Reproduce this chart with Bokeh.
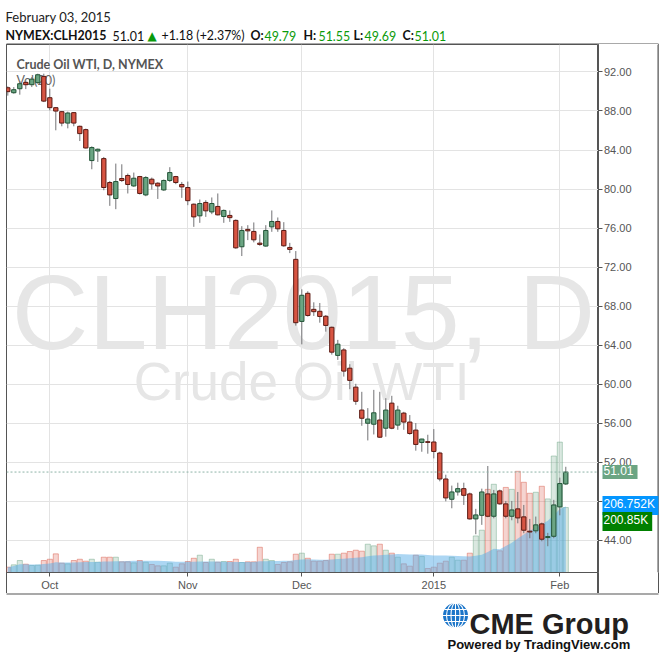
import numpy as np
import pandas as pd
from bokeh.plotting import figure
from bokeh.layouts import column, row
from bokeh.models import (ColumnDataSource, Range1d, FixedTicker, PrintfTickFormatter,
                          Label, Span)
from bokeh.embed import file_html
from bokeh.resources import INLINE

# ---------------- data ----------------
holidays = ["2014-11-27", "2014-12-25", "2015-01-01"]
trade_dates = pd.bdate_range("2014-09-22", "2015-02-03")
trade_dates = trade_dates[~trade_dates.isin(pd.to_datetime(holidays))]

open_ = [90.38, 89.87, 90.28, 90.93, 90.69, 90.90, 91.54, 89.36, 88.34, 87.93,
         86.76, 87.83, 86.43, 86.09, 82.92, 83.90, 83.12, 80.67, 79.03, 81.08,
         81.39, 80.32, 81.28, 79.40, 81.01, 80.60, 79.91, 80.88, 81.28, 80.47,
         80.16, 78.45, 77.26, 78.63, 77.66, 78.22, 77.19, 77.30, 76.79, 74.09,
         75.87, 75.66, 74.46, 74.16, 76.13, 76.68, 75.76, 74.02, 72.80, 66.44,
         69.32, 67.68, 67.48, 66.97, 65.84, 62.96, 63.52, 61.65, 59.71, 57.36,
         56.01, 55.91, 56.34, 55.50, 58.07, 55.82, 57.05, 56.13, 55.31, 54.04,
         54.12, 54.09, 52.96, 50.30, 48.22, 48.97, 49.31, 48.77, 46.21, 46.58,
         48.77, 46.48, 49.08, 47.75, 46.48, 47.24, 46.42, 44.95, 44.99, 45.70,
         44.30, 44.43, 47.44, 49.79]
high = [90.52, 90.45, 91.06, 91.13, 91.47, 91.82, 91.82, 90.28, 88.40, 87.99,
        87.93, 87.89, 86.50, 86.19, 84.38, 84.15, 83.29, 80.83, 82.61, 82.54,
        81.59, 81.69, 81.35, 81.32, 81.18, 80.70, 80.98, 82.24, 81.35, 80.73,
        80.77, 78.52, 78.93, 78.86, 79.14, 79.55, 77.91, 77.81, 76.89, 76.20,
        76.30, 76.58, 75.35, 76.30, 77.81, 77.09, 76.61, 74.49, 73.65, 69.73,
        69.53, 68.40, 68.33, 67.10, 65.91, 64.55, 63.70, 62.06, 60.05, 59.23,
        57.56, 59.43, 59.23, 58.58, 58.82, 57.80, 57.18, 56.85, 56.03, 54.42,
        54.83, 55.41, 53.09, 50.74, 49.62, 49.92, 49.92, 48.90, 47.24, 49.31,
        51.63, 49.18, 49.21, 48.05, 48.05, 48.97, 47.64, 46.21, 46.45, 45.83,
        44.78, 48.16, 50.44, 51.55]
low = [89.57, 89.77, 89.67, 90.24, 90.45, 90.79, 88.91, 88.06, 86.02, 86.43,
       86.22, 86.43, 84.92, 84.15, 82.03, 82.78, 79.88, 78.28, 77.94, 80.73,
       79.55, 80.22, 79.44, 79.27, 79.95, 78.99, 79.81, 80.73, 80.50, 79.10,
       78.35, 76.13, 76.54, 77.15, 77.43, 77.30, 76.54, 76.64, 73.88, 73.14,
       74.77, 74.54, 74.19, 74.09, 75.62, 75.62, 74.09, 73.44, 66.01, 64.09,
       66.93, 67.00, 66.31, 65.39, 63.04, 62.50, 60.79, 59.50, 57.90, 55.75,
       54.25, 54.86, 54.50, 54.63, 55.40, 55.34, 55.34, 54.83, 53.20, 53.09,
       52.89, 52.41, 50.06, 48.01, 47.30, 48.60, 47.64, 46.14, 44.64, 45.60,
       46.38, 46.27, 47.67, 46.27, 46.07, 45.76, 44.74, 44.23, 44.74, 43.92,
       43.41, 44.23, 46.58, 49.69]
close = [89.98, 90.18, 90.79, 90.69, 91.26, 91.71, 89.01, 88.34, 87.99, 86.76,
         87.79, 86.76, 85.68, 84.21, 84.25, 84.08, 80.16, 79.40, 80.77, 80.88,
         80.47, 81.11, 79.55, 81.18, 80.53, 80.32, 80.88, 81.69, 80.67, 80.22,
         78.81, 77.15, 78.52, 77.77, 78.52, 77.36, 77.81, 77.07, 73.98, 75.76,
         75.72, 74.80, 74.33, 75.76, 76.68, 75.93, 74.19, 73.82, 66.31, 69.12,
         67.05, 67.44, 66.95, 66.03, 63.29, 64.11, 61.35, 60.40, 58.26, 56.52,
         56.44, 57.08, 54.58, 57.36, 55.50, 57.36, 56.13, 54.96, 53.84, 54.39,
         54.05, 53.12, 50.30, 48.36, 48.97, 49.31, 48.63, 46.21, 46.62, 48.97,
         46.48, 48.77, 47.75, 46.48, 47.13, 46.31, 45.05, 44.87, 45.60, 44.13,
         44.40, 47.64, 49.83, 51.01]
volume_k = [16.5, 23.7, 37.0, 25.7, 21.6, 22.6, 37.0, 41.0, 57.6, 28.8,
            26.8, 37.0, 41.0, 35.0, 41.0, 31.9, 47.3, 47.3, 47.3, 33.0,
            33.0, 29.8, 37.0, 31.9, 24.7, 20.6, 20.6, 28.8, 16.5, 26.8,
            34.0, 44.0, 53.5, 30.9, 41.0, 31.9, 34.0, 34.0, 41.0, 30.9,
            33.0, 33.0, 78.0, 41.0, 37.0, 24.7, 30.9, 33.0, 56.6, 59.7,
            44.0, 35.0, 35.0, 37.0, 56.6, 56.6, 59.7, 64.8, 68.9, 65.9,
            87.5, 82.3, 87.5, 68.9, 59.7, 47.3, 26.8, 19.6, 53.5, 49.4,
            12.3, 16.5, 28.8, 35.0, 47.3, 38.0, 38.0, 59.7, 113.0, 130.7,
            257.0, 272.7, 66.9, 263.0, 257.0, 312.8, 278.9, 244.9, 248.0, 266.5,
            227.4, 360.0, 403.0, 200.85]

month_tick_labels = ["Oct", "Nov", "Dec", "2015", "Feb"]
price_ticks = [44, 48, 52, 56, 60, 64, 68, 72, 76, 80, 84, 88, 92]

last_close = 51.01
vol_ma_last = 206.752
vol_last = 200.85

# ---------------- derived ----------------
n = len(close)
idx = np.arange(n)
o = np.array(open_); c = np.array(close)
up = c >= o
UP_FILL, UP_LINE = "#6ba583", "#225437"
DN_FILL, DN_LINE = "#d75442", "#5b1a13"
WICK = "#737375"
AXIS_COL = "#555555"

months = trade_dates.to_period("M")
tick_idx = [i for i in range(1, n) if months[i] != months[i - 1]]

vol_ma = pd.Series(volume_k).rolling(20, min_periods=1).mean().values

candles = ColumnDataSource(dict(
    x=idx, top=np.maximum(o, c), bottom=np.minimum(o, c), high=high, low=low,
    fill=[UP_FILL if u else DN_FILL for u in up],
    line=[UP_LINE if u else DN_LINE for u in up],
))
vols = ColumnDataSource(dict(x=idx, v=volume_k, ma=vol_ma,
                             col=[UP_FILL if u else DN_FILL for u in up]))

PLOT_H = 529          # frame height of price pane
AXIS_H = 20           # date-axis strip below it
price_range = Range1d(40.72, 94.81)
vol_range = Range1d(0, 1632.0)

# thin box lines drawn by CSS in the (transparent) border strips
def vlines(*xs):
    imgs = ", ".join(["linear-gradient(#555555, #555555)"] * len(xs))
    return {"background-image": imgs,
            "background-size": ", ".join(["1px 100%"] * len(xs)),
            "background-position": ", ".join([f"{x}px 0px" for x in xs]),
            "background-repeat": "no-repeat"}


def lab(fig, text, x, y, size, color="#222222", bold=False, font="Lato",
        align="left", baseline="alphabetic", level="annotation", units="data", **kw):
    fig.add_layout(Label(x=x, y=y, x_units=kw.pop("x_units", units),
                         y_units=kw.pop("y_units", units), text=text, text_font=font,
                         text_font_size=f"{size}px", text_color=color,
                         text_font_style="bold" if bold else "normal",
                         text_align=align, text_baseline=baseline, level=level, **kw))


def bare(fig):
    fig.xgrid.visible = False
    fig.ygrid.visible = False
    fig.outline_line_color = None


# ---------------- header ----------------
hdr = figure(width=664, height=44, x_range=Range1d(0, 664), y_range=Range1d(44, 0),
             x_axis_location=None, y_axis_location=None, title=None,
             output_backend="svg", toolbar_location=None, min_border=0)
bare(hdr)
lab(hdr, "February 03, 2015", 5, 16, 13, color="#222222")
GREEN = "#0a9a0a"
for t, x, col, b in [("NYMEX:CLH2015", 5, "#111111", True), ("51.01", 112, "#111111", False),
                     ("+1.18 (+2.37%)", 161, "#111111", False),
                     ("O:", 250, "#111111", True), ("49.79", 264, GREEN, False),
                     ("H:", 303, "#111111", True), ("51.55", 318, GREEN, False),
                     ("L:", 353, "#111111", True), ("49.69", 364, GREEN, False),
                     ("C:", 402, "#111111", True), ("51.01", 414, GREEN, False)]:
    lab(hdr, t, x, 35, 12.4, color=col, bold=b)
lab(hdr, "\u25b2", 147, 35, 12, color=GREEN, font="DejaVu Sans")
hdr.segment(x0=[6], y0=[44], x1=[658], y1=[44], line_color=AXIS_COL, line_width=2)

# ---------------- main price pane ----------------
p = figure(width=598, height=PLOT_H + AXIS_H, x_range=Range1d(-0.217, 98.45),
           y_range=price_range, y_axis_location=None, title=None,
           output_backend="svg", toolbar_location=None,
           min_border_left=6, min_border_right=0, min_border_top=0, min_border_bottom=AXIS_H,
           background_fill_color="white", border_fill_color=None,
           styles=vlines(6, 597))
p.extra_y_ranges = {"vol": vol_range}
p.outline_line_color = AXIS_COL
for g in (p.xgrid, p.ygrid):
    g.grid_line_color = "#e3e3e3"
p.xgrid.ticker = FixedTicker(ticks=tick_idx)
p.ygrid.ticker = FixedTicker(ticks=price_ticks)

xa = p.xaxis[0]
xa.ticker = FixedTicker(ticks=tick_idx)
xa.major_label_overrides = {t: s for t, s in zip(tick_idx, month_tick_labels)}
xa.axis_line_color = AXIS_COL
xa.major_tick_line_color = AXIS_COL
xa.major_tick_out = 4
xa.major_tick_in = 0
xa.minor_tick_out = 0
xa.minor_tick_in = 0
xa.major_label_standoff = 2
xa.major_label_text_font = "Liberation Sans"
xa.major_label_text_font_size = "11px"
xa.major_label_text_color = AXIS_COL

# watermark + pane labels (frame-relative screen units)
lab(p, "CLH2015, D", 297, 261, 106, color="#e6e6e6", font="Liberation Sans",
    align="center", level="underlay", units="screen")
lab(p, "Crude Oil WTI", 295, 191, 53, color="#e6e6e6", font="Liberation Sans",
    align="center", level="underlay", units="screen")
lab(p, "Vol(20)", 10, 492, 12.5, color="#666666", level="underlay", units="screen")
lab(p, "Crude Oil WTI, D, NYMEX", 10, 508, 12.5, color="#555555", bold=True, units="screen")

# volume bars, then translucent MA(20) area over them
p.vbar(x="x", top="v", bottom=0, width=0.85, source=vols, y_range_name="vol",
       fill_color="col", fill_alpha=0.25, line_color="col", line_alpha=0.45)
p.varea(x="x", y1=0, y2="ma", source=vols, y_range_name="vol",
        fill_color="#5aaee8", fill_alpha=0.5)

# candles
p.segment(x0="x", y0="low", x1="x", y1="high", source=candles, line_color=WICK, line_width=1)
p.vbar(x="x", top="top", bottom="bottom", width=0.72, source=candles,
       fill_color="fill", line_color="line", line_width=1)

p.add_layout(Span(location=last_close, dimension="width", line_color="#8db2a6",
                  line_dash="2 2", line_width=1))

# ---------------- price scale (right) ----------------
ps = figure(width=66, height=PLOT_H + AXIS_H, x_range=Range1d(0, 60), y_range=price_range,
            x_axis_location=None, y_axis_location="left", title=None,
            output_backend="svg", toolbar_location=None,
            min_border_left=0, min_border_right=6, min_border_top=0, min_border_bottom=AXIS_H,
            background_fill_color="white", border_fill_color=None,
            styles=vlines(0, 60))
ps.extra_y_ranges = {"vol": vol_range}
ps.xgrid.visible = False
ps.ygrid.visible = False
ps.outline_line_color = None
ya = ps.yaxis[0]
ya.ticker = FixedTicker(ticks=price_ticks)
ya.formatter = PrintfTickFormatter(format="%.2f")
ya.axis_line_color = AXIS_COL
ya.major_tick_line_color = AXIS_COL
ya.major_tick_in = 4
ya.major_tick_out = 0
ya.minor_tick_in = 0
ya.minor_tick_out = 0
ya.axis_label_standoff = 0
ya.major_label_standoff = -33
ya.major_label_text_font = "Liberation Sans"
ya.major_label_text_font_size = "11px"
ya.major_label_text_color = AXIS_COL
ps.add_layout(Span(location=60, dimension="height", line_color=AXIS_COL, line_width=2))

badge = dict(x=4, x_units="screen", size=12, color="white", font="Liberation Sans",
             baseline="middle", padding=(1, 4, 1, 4))
lab(ps, f"{last_close:.2f}", y=last_close, background_fill_color=UP_FILL, **badge)
lab(ps, f"{vol_ma_last}K", y=vol_ma_last, y_range_name="vol",
    background_fill_color="#0496ff", **badge)
lab(ps, f"{vol_last}K", y=vol_last, y_range_name="vol", y_offset=-14,
    background_fill_color="#008000", **badge)

# ---------------- footer / logo ----------------
lf = figure(width=664, height=59, x_range=Range1d(0, 664), y_range=Range1d(652, 593),
            x_axis_location=None, y_axis_location=None, title=None,
            output_backend="svg", toolbar_location=None, min_border=0)
bare(lf)
lf.segment(x0=[6], y0=[593], x1=[658], y1=[593], line_color=AXIS_COL, line_width=2)
gx, gy, gr = 455, 615, 12.5
lf.circle(x=[gx], y=[gy], radius=gr, fill_color="#1b75c9", line_color=None)
lf.ellipse(x=[gx, gx], y=[gy, gy], width=[9, 18], height=[2 * gr, 2 * gr],
           fill_color=None, line_color="white", line_width=1.1)
lf.segment(x0=[gx, gx - gr, gx - 11, gx - 11], y0=[gy - gr, gy, gy - 6, gy + 6],
           x1=[gx, gx + gr, gx + 11, gx + 11], y1=[gy + gr, gy, gy - 6, gy + 6],
           line_color="white", line_width=1.1)
lab(lf, "CME Group", 469, 623, 29, color="#231f20", bold=True, font="Liberation Sans")
lab(lf, "Powered by TradingView.com", 447, 644, 13, color="#111111", bold=True,
    font="Liberation Sans")

layout = column(hdr, row(p, ps), lf)
open("out.html", "w").write(file_html(layout, INLINE))
